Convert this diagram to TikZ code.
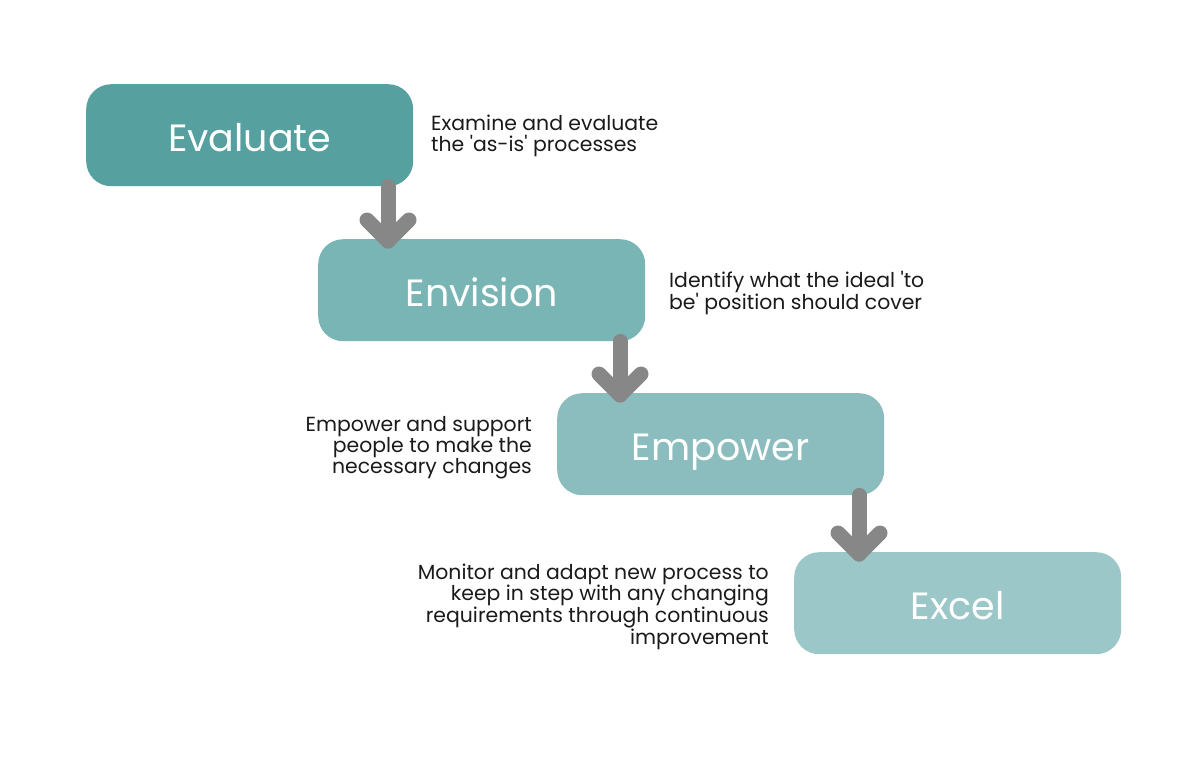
\documentclass[tikz,border=0pt]{standalone}
\usepackage{fontspec}
\setmainfont{Poppins}
\usetikzlibrary{calc}
\definecolor{cA}{HTML}{56A19F}
\definecolor{cB}{HTML}{7AB5B5}
\definecolor{cC}{HTML}{8BBDBE}
\definecolor{cD}{HTML}{9CC7C8}
\definecolor{arrowgray}{HTML}{878787}
\definecolor{txt}{HTML}{1A1A1A}
\tikzset{
  stagebox/.style={rounded corners=25pt, minimum width=327pt, minimum height=102pt, inner sep=0pt,
    text height=32pt, text depth=0pt,
    text=white, font=\fontsize{38}{40}\selectfont, anchor=north west},
  desc/.style={inner sep=0pt, text=txt, font=\fontsize{20.4}{21}\selectfont},
  flowarrow/.style={draw=arrowgray, line width=15pt, line cap=round, line join=round}
}
\begin{document}
\begin{tikzpicture}[x=1pt,y=-1pt]
\useasboundingbox (0,0) rectangle (1199,772);
\node[stagebox, fill=cA] (a) at (86,84) {Evaluate};
\node[stagebox, fill=cB] (b) at (318,239) {Envision};
\node[stagebox, fill=cC] (c) at (557,393) {Empower};
\node[stagebox, fill=cD] (d) at (794,552) {Excel};
\node[desc, anchor=north west, align=left] (ta) at (431,115) {Examine and evaluate\\the \textquotesingle as-is\textquotesingle\ processes};
\node[desc, anchor=north west, align=left] (tb) at (669,271) {Identify what the ideal \textquotesingle to\\be\textquotesingle\ position should cover};
\node[desc, anchor=north east, align=right] (tc) at (532,416) {Empower and support\\people to make the\\necessary changes};
\node[desc, anchor=north east, align=right] (td) at (769,564) {Monitor and adapt new process to\\keep in step with any changing\\requirements through continuous\\improvement};
\foreach \s/\t in {a/b, b/c, c/d}{
  \coordinate (s\s) at ($(\s.south west)+(302,0)$);
  \coordinate (e\s) at ($(s\s |- \t.north)+(0,2)$);
  \draw[flowarrow] (s\s) -- (e\s);
  \draw[flowarrow] ($(e\s)+(-21,-21)$) -- (e\s) -- ($(e\s)+(21,-21)$);
}
\end{tikzpicture}
\end{document}
